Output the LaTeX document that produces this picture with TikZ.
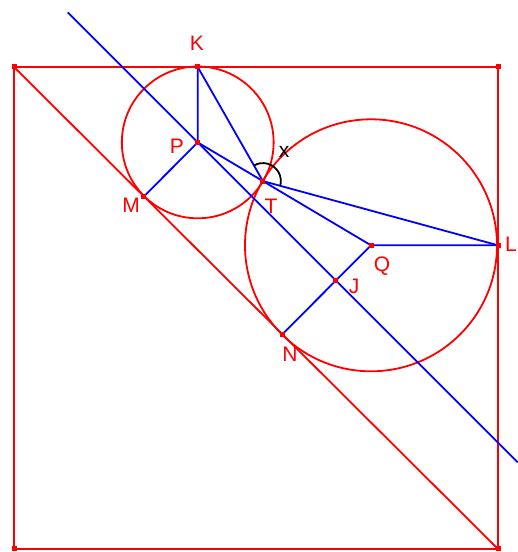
\documentclass[tikz,border=0pt]{standalone}
\usepackage{fontspec}
\setmainfont{Liberation Sans}
\usetikzlibrary{calc,angles}
\begin{document}
\begin{tikzpicture}[x=1pt,y=1pt,
  redline/.style={draw=red,line width=1.8pt},
  frameline/.style={draw=red,line width=2pt},
  blueline/.style={draw=blue,line width=1.8pt},
  pt/.style={rectangle,fill=red,minimum size=5pt,inner sep=0pt},
  lab/.style={text=red,font=\fontsize{21}{25}\selectfont,inner sep=0pt}]
\useasboundingbox (0,0) rectangle (518,552);
% square corners
\coordinate (A) at (14,485);
\coordinate (B) at (498,485);
\coordinate (C) at (498,3);
\coordinate (D) at (14,3);
% centres and tangent points
\coordinate (P) at (197.74,409.6);
\coordinate (Q) at (371,306.69);
\coordinate (K) at (197.74,485);
\coordinate (L) at (498,306.69);
\coordinate (M) at ($(A)!(P)!(C)$);
\coordinate (N) at ($(A)!(Q)!(C)$);
\coordinate (T) at ($(P)!0.3759!(Q)$);
\coordinate (P2) at ($(P)+(100,-100)$);
\coordinate (J) at ($(P)!(N)!(P2)$);
\coordinate (E1) at ($(P)+(-130,130)$);
\coordinate (E2) at ($(P)+(320,-320)$);
% red figure
\draw[frameline] (A) -- (B) -- (C) -- (D) -- cycle;
\draw[redline] (A) -- (C);
\draw[redline] (P) circle[radius=75.9pt];
\draw[redline] (Q) circle[radius=126pt];
% blue lines
\draw[blueline] (E1) -- (E2);
\draw[blueline] (K) -- (P) -- (M);
\draw[blueline] (K) -- (T) -- (L);
\draw[blueline] (P) -- (Q) -- (L);
\draw[blueline] (N) -- (Q);
% angle
\pic[draw=black,line width=1.8pt,angle radius=18pt] {angle=L--T--K};
% points
\foreach \p in {A,B,C,D,K,P,M,T,Q,J,L,N} \node[pt] (d\p) at (\p) {};
% labels
\node[lab] (lK) at (197,509) {K};
\node[lab] (lP) at (177,406) {P};
\node[lab] (lM) at (131,347) {M};
\node[lab] (lT) at (271,346) {T};
\node[lab,text=black] (lx) at (284,400) {x};
\node[lab] (lQ) at (382,286) {Q};
\node[lab] (lJ) at (354,266) {J};
\node[lab] (lL) at (511,308) {L};
\node[lab] (lN) at (290,198) {N};
\end{tikzpicture}
\end{document}
